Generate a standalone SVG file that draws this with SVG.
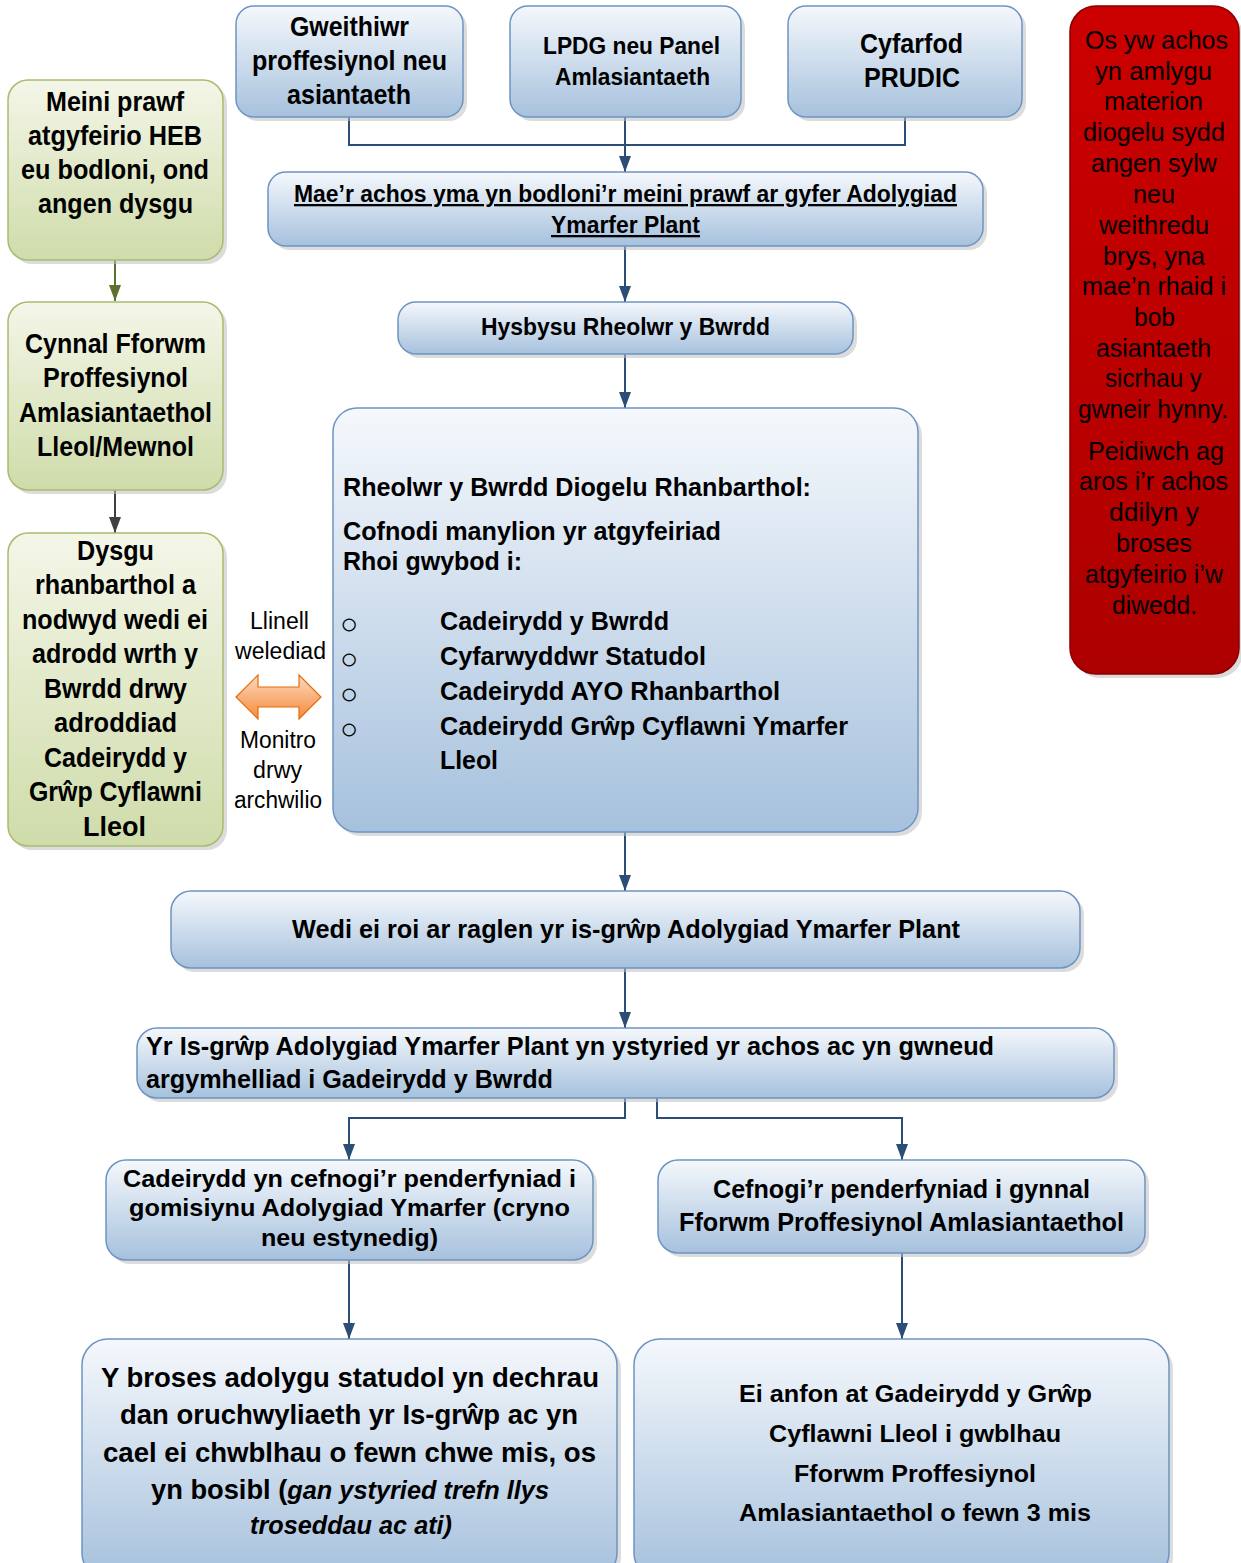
<svg xmlns="http://www.w3.org/2000/svg" width="1241" height="1563" viewBox="0 0 1241 1563">
<defs>
<linearGradient id="gb" x1="0" y1="0" x2="0" y2="1"><stop offset="0" stop-color="#f5f8fc"/><stop offset="1" stop-color="#a6c1dd"/></linearGradient>
<linearGradient id="gg" x1="0" y1="0" x2="0" y2="1"><stop offset="0" stop-color="#f4f6e8"/><stop offset="1" stop-color="#cfdcaa"/></linearGradient>
<linearGradient id="gr" x1="0" y1="0" x2="0" y2="1"><stop offset="0" stop-color="#cc0000"/><stop offset="1" stop-color="#ad0000"/></linearGradient>
<linearGradient id="go" x1="0" y1="0" x2="0" y2="1"><stop offset="0" stop-color="#fcd9bd"/><stop offset="1" stop-color="#f58a3c"/></linearGradient>
<marker id="ab" viewBox="0 0 16 12" refX="16" refY="6" markerWidth="16" markerHeight="12" markerUnits="userSpaceOnUse" orient="auto"><path d="M0,0 L16,6 L0,12 z" fill="#2c4d75"/></marker>
<marker id="ag" viewBox="0 0 16 12" refX="16" refY="6" markerWidth="16" markerHeight="12" markerUnits="userSpaceOnUse" orient="auto"><path d="M0,0 L16,6 L0,12 z" fill="#5e7030"/></marker>
<marker id="ak" viewBox="0 0 16 12" refX="16" refY="6" markerWidth="16" markerHeight="12" markerUnits="userSpaceOnUse" orient="auto"><path d="M0,0 L16,6 L0,12 z" fill="#404040"/></marker>
<style>
.bx{fill:url(#gb);stroke:#6d94c2;stroke-width:1.5}
.gx{fill:url(#gg);stroke:#a9ba6e;stroke-width:1.5}
.sh{fill:#bfbfbf;opacity:.55}
.t{font-family:"Liberation Sans",Arial,sans-serif;font-weight:bold;fill:#000}
.n{font-weight:normal}
.cn{stroke:#2c4d75;stroke-width:2;fill:none}
</style>
</defs>

<g id="connectors">
<path class="cn" d="M349,117 V145 H905 V117"/>
<path class="cn" d="M625,117 V172" marker-end="url(#ab)"/>
<path class="cn" d="M625,246 V302" marker-end="url(#ab)"/>
<path class="cn" d="M625,354 V408" marker-end="url(#ab)"/>
<path class="cn" d="M625,832 V891" marker-end="url(#ab)"/>
<path class="cn" d="M625,968 V1028" marker-end="url(#ab)"/>
<path class="cn" d="M625,1098 V1118 H349 V1160" marker-end="url(#ab)"/>
<path class="cn" d="M657,1098 V1118 H902 V1160" marker-end="url(#ab)"/>
<path class="cn" d="M349,1260 V1339" marker-end="url(#ab)"/>
<path class="cn" d="M902,1253 V1339" marker-end="url(#ab)"/>
<path d="M115,260 V301" stroke="#5e7030" stroke-width="2" fill="none" marker-end="url(#ag)"/>
<path d="M115,490 V533" stroke="#404040" stroke-width="2" fill="none" marker-end="url(#ak)"/>
</g>

<g id="n-gweithiwr">
<rect class="sh" x="240" y="10" width="227" height="111" rx="18"/>
<rect class="bx" x="236" y="6" width="227" height="111" rx="18"/>
<text class="t" font-size="27"><tspan x="290" y="36" textLength="119" lengthAdjust="spacingAndGlyphs">Gweithiwr</tspan><tspan x="252" y="70" textLength="195" lengthAdjust="spacingAndGlyphs">proffesiynol neu</tspan><tspan x="287" y="104" textLength="124" lengthAdjust="spacingAndGlyphs">asiantaeth</tspan></text>
</g>

<g id="n-lpdg">
<rect class="sh" x="514" y="10" width="231" height="111" rx="18"/>
<rect class="bx" x="510" y="6" width="231" height="111" rx="18"/>
<text class="t" font-size="23"><tspan x="543" y="54" textLength="177" lengthAdjust="spacingAndGlyphs">LPDG neu Panel</tspan><tspan x="555" y="85" textLength="155" lengthAdjust="spacingAndGlyphs">Amlasiantaeth</tspan></text>
</g>

<g id="n-prudic">
<rect class="sh" x="792" y="10" width="234" height="111" rx="18"/>
<rect class="bx" x="788" y="6" width="234" height="111" rx="18"/>
<text class="t" font-size="27"><tspan x="860" y="53" textLength="103" lengthAdjust="spacingAndGlyphs">Cyfarfod</tspan><tspan x="864" y="87" textLength="96" lengthAdjust="spacingAndGlyphs">PRUDIC</tspan></text>
</g>

<g id="n-red">
<rect x="1074" y="10" width="169" height="668" rx="26" fill="#bdbdbd" opacity=".55"/>
<rect x="1070" y="6" width="169" height="668" rx="26" fill="url(#gr)" stroke="#8a0000" stroke-width="1.5"/>
<text class="t n" font-size="26">
<tspan x="1085" y="49" textLength="143" lengthAdjust="spacingAndGlyphs">Os yw achos</tspan>
<tspan x="1095" y="80" textLength="117" lengthAdjust="spacingAndGlyphs">yn amlygu</tspan>
<tspan x="1104" y="110" textLength="99" lengthAdjust="spacingAndGlyphs">materion</tspan>
<tspan x="1083" y="141" textLength="142" lengthAdjust="spacingAndGlyphs">diogelu sydd</tspan>
<tspan x="1091" y="172" textLength="126" lengthAdjust="spacingAndGlyphs">angen sylw</tspan>
<tspan x="1133" y="203" textLength="42" lengthAdjust="spacingAndGlyphs">neu</tspan>
<tspan x="1099" y="234" textLength="110" lengthAdjust="spacingAndGlyphs">weithredu</tspan>
<tspan x="1103" y="265" textLength="102" lengthAdjust="spacingAndGlyphs">brys, yna</tspan>
<tspan x="1082" y="295" textLength="144" lengthAdjust="spacingAndGlyphs">mae’n rhaid i</tspan>
<tspan x="1134" y="326" textLength="41" lengthAdjust="spacingAndGlyphs">bob</tspan>
<tspan x="1096" y="357" textLength="115" lengthAdjust="spacingAndGlyphs">asiantaeth</tspan>
<tspan x="1105" y="387" textLength="97" lengthAdjust="spacingAndGlyphs">sicrhau y</tspan>
<tspan x="1078" y="418" textLength="150" lengthAdjust="spacingAndGlyphs">gwneir hynny.</tspan>
<tspan x="1088" y="460" textLength="136" lengthAdjust="spacingAndGlyphs">Peidiwch ag</tspan>
<tspan x="1079" y="490" textLength="149" lengthAdjust="spacingAndGlyphs">aros i’r achos</tspan>
<tspan x="1109" y="521" textLength="90" lengthAdjust="spacingAndGlyphs">ddilyn y</tspan>
<tspan x="1116" y="552" textLength="76" lengthAdjust="spacingAndGlyphs">broses</tspan>
<tspan x="1085" y="583" textLength="138" lengthAdjust="spacingAndGlyphs">atgyfeirio i’w</tspan>
<tspan x="1112" y="614" textLength="85" lengthAdjust="spacingAndGlyphs">diwedd.</tspan>
</text>
</g>

<g id="n-maer">
<rect class="sh" x="272" y="176" width="715" height="74" rx="18"/>
<rect class="bx" x="268" y="172" width="715" height="74" rx="18"/>
<text class="t" font-size="23" text-decoration="underline"><tspan x="294" y="202" textLength="663" lengthAdjust="spacingAndGlyphs">Mae’r achos yma yn bodloni’r meini prawf ar gyfer Adolygiad</tspan><tspan x="551" y="233" textLength="149" lengthAdjust="spacingAndGlyphs">Ymarfer Plant</tspan></text>
</g>

<g id="n-hysbysu">
<rect class="sh" x="402" y="306" width="455" height="52" rx="18"/>
<rect class="bx" x="398" y="302" width="455" height="52" rx="18"/>
<text class="t" font-size="23" x="481" y="335" textLength="289" lengthAdjust="spacingAndGlyphs">Hysbysu Rheolwr y Bwrdd</text>
</g>

<g id="n-rheolwr">
<rect class="sh" x="337" y="412" width="585" height="424" rx="24"/>
<rect class="bx" x="333" y="408" width="585" height="424" rx="24"/>
<text class="t" font-size="26">
<tspan x="343" y="496" textLength="468" lengthAdjust="spacingAndGlyphs">Rheolwr y Bwrdd Diogelu Rhanbarthol:</tspan>
<tspan x="343" y="540" textLength="378" lengthAdjust="spacingAndGlyphs">Cofnodi manylion yr atgyfeiriad</tspan>
<tspan x="343" y="570" textLength="179" lengthAdjust="spacingAndGlyphs">Rhoi gwybod i:</tspan>
<tspan x="440" y="630" textLength="229" lengthAdjust="spacingAndGlyphs">Cadeirydd y Bwrdd</tspan>
<tspan x="440" y="665" textLength="266" lengthAdjust="spacingAndGlyphs">Cyfarwyddwr Statudol</tspan>
<tspan x="440" y="700" textLength="340" lengthAdjust="spacingAndGlyphs">Cadeirydd AYO Rhanbarthol</tspan>
<tspan x="440" y="735" textLength="408" lengthAdjust="spacingAndGlyphs">Cadeirydd Grŵp Cyflawni Ymarfer</tspan>
<tspan x="440" y="769" textLength="58" lengthAdjust="spacingAndGlyphs">Lleol</tspan>
</text>
<text class="t n" font-size="30"><tspan x="340" y="634">○</tspan><tspan x="340" y="669">○</tspan><tspan x="340" y="704">○</tspan><tspan x="340" y="739">○</tspan></text>
</g>

<g id="n-wedi">
<rect class="sh" x="175" y="895" width="909" height="77" rx="20"/>
<rect class="bx" x="171" y="891" width="909" height="77" rx="20"/>
<text class="t" font-size="25" x="292" y="938" textLength="668" lengthAdjust="spacingAndGlyphs">Wedi ei roi ar raglen yr is-grŵp Adolygiad Ymarfer Plant</text>
</g>

<g id="n-isgrwp">
<rect class="sh" x="141" y="1032" width="977" height="70" rx="20"/>
<rect class="bx" x="137" y="1028" width="977" height="70" rx="20"/>
<text class="t" font-size="25"><tspan x="146" y="1055" textLength="848" lengthAdjust="spacingAndGlyphs">Yr Is-grŵp Adolygiad Ymarfer Plant yn ystyried yr achos ac yn gwneud</tspan><tspan x="146" y="1088" textLength="407" lengthAdjust="spacingAndGlyphs">argymhelliad i Gadeirydd y Bwrdd</tspan></text>
</g>

<g id="n-cadeirydd">
<rect class="sh" x="110" y="1164" width="487" height="100" rx="20"/>
<rect class="bx" x="106" y="1160" width="487" height="100" rx="20"/>
<text class="t" font-size="24"><tspan x="123" y="1187" textLength="453" lengthAdjust="spacingAndGlyphs">Cadeirydd yn cefnogi’r penderfyniad i</tspan><tspan x="129" y="1216" textLength="441" lengthAdjust="spacingAndGlyphs">gomisiynu Adolygiad Ymarfer (cryno</tspan><tspan x="261" y="1246" textLength="177" lengthAdjust="spacingAndGlyphs">neu estynedig)</tspan></text>
</g>

<g id="n-cefnogi">
<rect class="sh" x="662" y="1164" width="487" height="93" rx="20"/>
<rect class="bx" x="658" y="1160" width="487" height="93" rx="20"/>
<text class="t" font-size="25"><tspan x="713" y="1198" textLength="377" lengthAdjust="spacingAndGlyphs">Cefnogi’r penderfyniad i gynnal</tspan><tspan x="679" y="1231" textLength="445" lengthAdjust="spacingAndGlyphs">Fforwm Proffesiynol Amlasiantaethol</tspan></text>
</g>

<g id="n-broses">
<rect class="sh" x="86" y="1343" width="535" height="240" rx="26"/>
<rect class="bx" x="82" y="1339" width="535" height="240" rx="26"/>
<text class="t" font-size="28">
<tspan x="101" y="1387" textLength="498" lengthAdjust="spacingAndGlyphs">Y broses adolygu statudol yn dechrau</tspan>
<tspan x="120" y="1424" textLength="458" lengthAdjust="spacingAndGlyphs">dan oruchwyliaeth yr Is-grŵp ac yn</tspan>
<tspan x="103" y="1462" textLength="493" lengthAdjust="spacingAndGlyphs">cael ei chwblhau o fewn chwe mis, os</tspan>
</text>
<text class="t" font-size="28" x="151" y="1499" textLength="398" lengthAdjust="spacingAndGlyphs">yn bosibl (<tspan font-style="italic" font-size="26">gan ystyried trefn llys</tspan></text>
<text class="t" font-size="26" font-style="italic" x="250" y="1534" textLength="202" lengthAdjust="spacingAndGlyphs">troseddau ac ati)</text>
</g>

<g id="n-anfon">
<rect class="sh" x="638" y="1343" width="535" height="240" rx="26"/>
<rect class="bx" x="634" y="1339" width="535" height="240" rx="26"/>
<text class="t" font-size="24">
<tspan x="739" y="1402" textLength="353" lengthAdjust="spacingAndGlyphs">Ei anfon at Gadeirydd y Grŵp</tspan>
<tspan x="769" y="1442" textLength="292" lengthAdjust="spacingAndGlyphs">Cyflawni Lleol i gwblhau</tspan>
<tspan x="794" y="1482" textLength="242" lengthAdjust="spacingAndGlyphs">Fforwm Proffesiynol</tspan>
<tspan x="739" y="1521" textLength="352" lengthAdjust="spacingAndGlyphs">Amlasiantaethol o fewn 3 mis</tspan>
</text>
</g>

<g id="n-meini">
<rect class="sh" x="12" y="84" width="215" height="180" rx="20"/>
<rect class="gx" x="8" y="80" width="215" height="180" rx="20"/>
<text class="t" font-size="27">
<tspan x="46" y="111" textLength="138" lengthAdjust="spacingAndGlyphs">Meini prawf</tspan>
<tspan x="28" y="145" textLength="174" lengthAdjust="spacingAndGlyphs">atgyfeirio HEB</tspan>
<tspan x="21" y="179" textLength="188" lengthAdjust="spacingAndGlyphs">eu bodloni, ond</tspan>
<tspan x="38" y="213" textLength="155" lengthAdjust="spacingAndGlyphs">angen dysgu</tspan>
</text>
</g>

<g id="n-cynnal">
<rect class="sh" x="12" y="306" width="215" height="188" rx="20"/>
<rect class="gx" x="8" y="302" width="215" height="188" rx="20"/>
<text class="t" font-size="27">
<tspan x="25" y="353" textLength="181" lengthAdjust="spacingAndGlyphs">Cynnal Fforwm</tspan>
<tspan x="43" y="387" textLength="145" lengthAdjust="spacingAndGlyphs">Proffesiynol</tspan>
<tspan x="19" y="422" textLength="193" lengthAdjust="spacingAndGlyphs">Amlasiantaethol</tspan>
<tspan x="37" y="456" textLength="157" lengthAdjust="spacingAndGlyphs">Lleol/Mewnol</tspan>
</text>
</g>

<g id="n-dysgu">
<rect class="sh" x="12" y="537" width="215" height="313" rx="20"/>
<rect class="gx" x="8" y="533" width="215" height="313" rx="20"/>
<text class="t" font-size="27">
<tspan x="77" y="560" textLength="77" lengthAdjust="spacingAndGlyphs">Dysgu</tspan>
<tspan x="35" y="594" textLength="161" lengthAdjust="spacingAndGlyphs">rhanbarthol a</tspan>
<tspan x="22" y="629" textLength="186" lengthAdjust="spacingAndGlyphs">nodwyd wedi ei</tspan>
<tspan x="32" y="663" textLength="166" lengthAdjust="spacingAndGlyphs">adrodd wrth y</tspan>
<tspan x="44" y="698" textLength="143" lengthAdjust="spacingAndGlyphs">Bwrdd drwy</tspan>
<tspan x="54" y="732" textLength="123" lengthAdjust="spacingAndGlyphs">adroddiad</tspan>
<tspan x="44" y="767" textLength="143" lengthAdjust="spacingAndGlyphs">Cadeirydd y</tspan>
<tspan x="29" y="801" textLength="173" lengthAdjust="spacingAndGlyphs">Grŵp Cyflawni</tspan>
<tspan x="83" y="836" textLength="63" lengthAdjust="spacingAndGlyphs">Lleol</tspan>
</text>
</g>

<g id="n-llinell">
<path d="M236,697 L258,675 L258,687 L299,687 L299,675 L321,697 L299,719 L299,707 L258,707 L258,719 Z" fill="url(#go)" stroke="#e46c0a" stroke-width="1.2"/>
<text class="t n" font-size="23">
<tspan x="250" y="629" textLength="59" lengthAdjust="spacingAndGlyphs">Llinell</tspan>
<tspan x="235" y="659" textLength="91" lengthAdjust="spacingAndGlyphs">welediad</tspan>
<tspan x="240" y="748" textLength="76" lengthAdjust="spacingAndGlyphs">Monitro</tspan>
<tspan x="253" y="778" textLength="49" lengthAdjust="spacingAndGlyphs">drwy</tspan>
<tspan x="234" y="808" textLength="88" lengthAdjust="spacingAndGlyphs">archwilio</tspan>
</text>
</g>
</svg>
